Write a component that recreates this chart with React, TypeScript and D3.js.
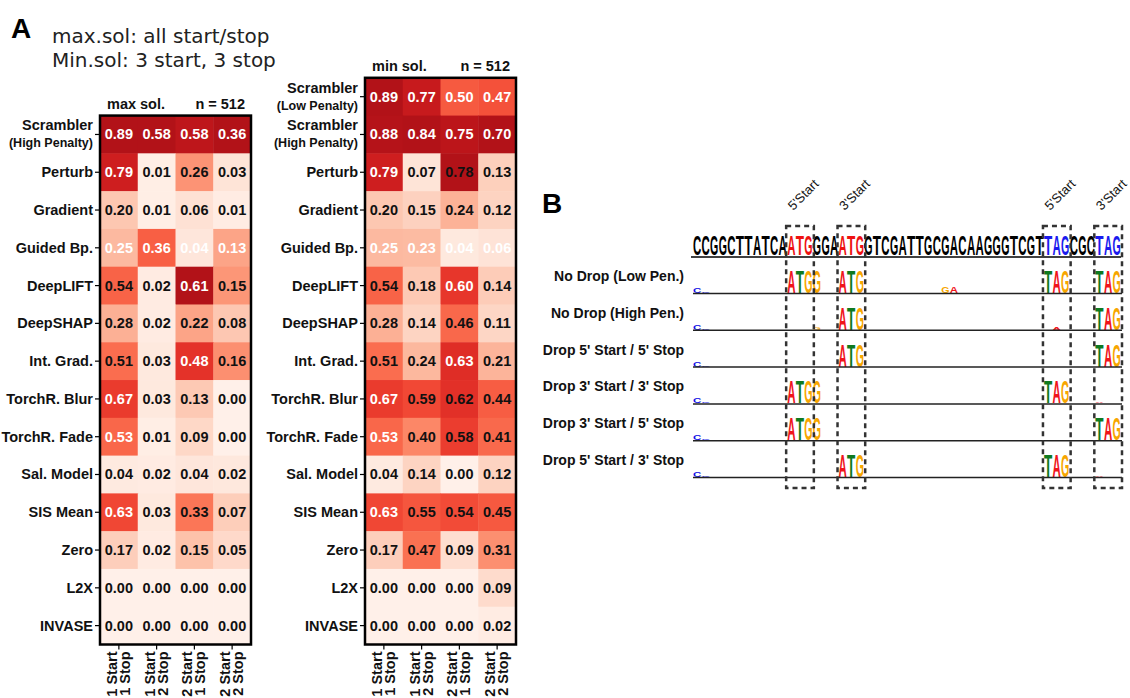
import React from "react";
import * as d3 from "d3";

// ---------- Panel A data ----------
const maxSolMethods: string[][] = [
  ["Scrambler", "(High Penalty)"],
  ["Perturb"], ["Gradient"], ["Guided Bp."], ["DeepLIFT"], ["DeepSHAP"],
  ["Int. Grad."], ["TorchR. Blur"], ["TorchR. Fade"], ["Sal. Model"],
  ["SIS Mean"], ["Zero"], ["L2X"], ["INVASE"],
];
const maxSolValues: number[][] = [
  [0.89, 0.58, 0.58, 0.36],
  [0.79, 0.01, 0.26, 0.03],
  [0.20, 0.01, 0.06, 0.01],
  [0.25, 0.36, 0.04, 0.13],
  [0.54, 0.02, 0.61, 0.15],
  [0.28, 0.02, 0.22, 0.08],
  [0.51, 0.03, 0.48, 0.16],
  [0.67, 0.03, 0.13, 0.00],
  [0.53, 0.01, 0.09, 0.00],
  [0.04, 0.02, 0.04, 0.02],
  [0.63, 0.03, 0.33, 0.07],
  [0.17, 0.02, 0.15, 0.05],
  [0.00, 0.00, 0.00, 0.00],
  [0.00, 0.00, 0.00, 0.00],
];
// 1 = label printed in white
const maxSolLightLabels: number[][] = [
  [1, 1, 1, 1], [1, 0, 0, 0], [0, 0, 0, 0], [1, 1, 1, 1], [0, 0, 1, 0],
  [0, 0, 0, 0], [0, 0, 1, 0], [1, 0, 0, 0], [1, 0, 0, 0], [0, 0, 0, 0],
  [1, 0, 0, 0], [0, 0, 0, 0], [0, 0, 0, 0], [0, 0, 0, 0],
];

const minSolMethods: string[][] = [
  ["Scrambler", "(Low Penalty)"],
  ["Scrambler", "(High Penalty)"],
  ["Perturb"], ["Gradient"], ["Guided Bp."], ["DeepLIFT"], ["DeepSHAP"],
  ["Int. Grad."], ["TorchR. Blur"], ["TorchR. Fade"], ["Sal. Model"],
  ["SIS Mean"], ["Zero"], ["L2X"], ["INVASE"],
];
const minSolValues: number[][] = [
  [0.89, 0.77, 0.50, 0.47],
  [0.88, 0.84, 0.75, 0.70],
  [0.79, 0.07, 0.78, 0.13],
  [0.20, 0.15, 0.24, 0.12],
  [0.25, 0.23, 0.04, 0.06],
  [0.54, 0.18, 0.60, 0.14],
  [0.28, 0.14, 0.46, 0.11],
  [0.51, 0.24, 0.63, 0.21],
  [0.67, 0.59, 0.62, 0.44],
  [0.53, 0.40, 0.58, 0.41],
  [0.04, 0.14, 0.00, 0.12],
  [0.63, 0.55, 0.54, 0.45],
  [0.17, 0.47, 0.09, 0.31],
  [0.00, 0.00, 0.00, 0.09],
  [0.00, 0.00, 0.00, 0.02],
];
const minSolLightLabels: number[][] = [
  [1, 1, 1, 1], [1, 1, 1, 1], [1, 0, 0, 0], [0, 0, 0, 0], [1, 1, 1, 1],
  [0, 0, 1, 0], [0, 0, 0, 0], [0, 0, 1, 0], [1, 0, 0, 0], [1, 0, 0, 0],
  [0, 0, 0, 0], [1, 0, 0, 0], [0, 0, 0, 0], [0, 0, 0, 0], [0, 0, 0, 0],
];

const columnLabels: string[][] = [
  ["1 Start", "1 Stop"],
  ["1 Start", "2 Stop"],
  ["2 Start", "1 Stop"],
  ["2 Start", "2 Stop"],
];

// ---------- Panel B data ----------
const referenceSeq = "CCGGCTTATCAATGGGAATGGTCGATTGCGACAAGGGTCGTTAGCGCTAG";
const startCodonPos = [11, 17];
const stopCodonPos = [41, 47];
const codonBoxLabels = ["5'Start", "3'Start", "5'Start", "3'Start"];

const logoRowLabels = [
  "No Drop (Low Pen.)",
  "No Drop (High Pen.)",
  "Drop 5' Start / 5' Stop",
  "Drop 3' Start / 3' Stop",
  "Drop 3' Start / 5' Stop",
  "Drop 5' Start / 3' Stop",
];
// [position, nucleotide, relative height]
type LogoLetter = [number, string, number];
const logoNoDropLow: LogoLetter[] = [
  [0, "C", 0.24], [1, "C", 0.06],
  [11, "A", 1], [12, "T", 1], [13, "G", 1], [14, "G", 1],
  [17, "A", 1], [18, "T", 1], [19, "G", 1],
  [29, "G", 0.28], [30, "A", 0.28],
  [41, "T", 1], [42, "A", 1], [43, "G", 1],
  [47, "T", 1], [48, "A", 1], [49, "G", 1],
];
const logoNoDropHigh: LogoLetter[] = [
  [0, "C", 0.24], [1, "C", 0.06],
  [14, "G", 0.1],
  [17, "A", 1], [18, "T", 1], [19, "G", 1],
  [42, "A", 0.14],
  [47, "T", 1], [48, "A", 1], [49, "G", 1],
];
const logoDrop5Start5Stop: LogoLetter[] = [
  [0, "C", 0.24], [1, "C", 0.06],
  [17, "A", 1], [18, "T", 1], [19, "G", 1],
  [47, "T", 1], [48, "A", 1], [49, "G", 1],
];
const logoDrop3Start3Stop: LogoLetter[] = [
  [0, "C", 0.24], [1, "C", 0.06],
  [11, "A", 1], [12, "T", 1], [13, "G", 1], [14, "G", 1],
  [41, "T", 1], [42, "A", 1], [43, "G", 1],
  [47, "A", 0.07],
];
const logoDrop3Start5Stop: LogoLetter[] = [
  [0, "C", 0.24], [1, "C", 0.06],
  [11, "A", 1], [12, "T", 1], [13, "G", 1], [14, "G", 1],
  [47, "T", 1], [48, "A", 1], [49, "G", 1],
];
const logoDrop5Start3Stop: LogoLetter[] = [
  [0, "C", 0.24], [1, "C", 0.06],
  [17, "A", 1], [18, "T", 1], [19, "G", 1],
  [41, "T", 1], [42, "A", 1], [43, "G", 1],
  [47, "A", 0.07],
];
const logoRows = [
  logoNoDropLow, logoNoDropHigh, logoDrop5Start5Stop,
  logoDrop3Start3Stop, logoDrop3Start5Stop, logoDrop5Start3Stop,
];

const FONT = "'Liberation Sans', Arial, Helvetica, sans-serif";
const nucColor: Record<string, string> = {
  A: "#f0141b",
  T: "#0f7a1f",
  G: "#f7a600",
  C: "#1414e6",
};

// ---------- Heatmap ----------
function Heatmap(props: {
  left: number; bottom: number; rowH: number; width: number;
  methods: string[][]; values: number[][]; light: number[][]; title: string;
}) {
  const { left, bottom, rowH, width, methods, values, light, title } = props;
  const top = bottom - rowH * methods.length;
  const x = d3.scaleBand<number>().domain(d3.range(4)).range([left, left + width]);
  const y = d3.scaleBand<number>().domain(d3.range(methods.length)).range([top, bottom]);
  // each column is shaded relative to its own maximum
  const colScales = d3.range(4).map((c) => {
    const mx = d3.max(values, (r) => r[c]) || 1;
    return d3
      .scaleSequential((t: number) => d3.interpolateReds(0.03 + 0.8 * t))
      .domain([0, mx]);
  });
  const cw = x.bandwidth();
  const rh = y.bandwidth();
  return (
    <g fontFamily={FONT} fontWeight="bold">
      <text x={left + 7} y={top - 7} fontSize={14.5} fill="#111">{title}</text>
      <text x={left + width - 6} y={top - 7} fontSize={14.5} fill="#111" textAnchor="end">n = 512</text>
      {values.map((row, r) =>
        row.map((v, c) => (
          <rect key={`r${r}c${c}`} x={x(c)!} y={y(r)!} width={cw + 0.5} height={rh + 0.5}
            fill={colScales[c](v)} />
        ))
      )}
      {values.map((row, r) =>
        row.map((v, c) => (
          <text key={`t${r}c${c}`} x={x(c)! + cw / 2} y={y(r)! + rh / 2 + 5}
            fontSize={14.5} textAnchor="middle"
            fill={light[r][c] ? "#ffffff" : "#111111"}>
            {v.toFixed(2)}
          </text>
        ))
      )}
      <rect x={left} y={top} width={width} height={bottom - top} fill="none"
        stroke="#000" strokeWidth={2.5} />
      {methods.map((lines, r) => {
        const cy = y(r)! + rh / 2;
        return (
          <g key={`l${r}`}>
            <line x1={left - 5} x2={left} y1={cy} y2={cy} stroke="#000" strokeWidth={1.2} />
            {lines.length === 1 ? (
              <text x={left - 7} y={cy + 5} fontSize={14.5} textAnchor="end" fill="#111">{lines[0]}</text>
            ) : (
              <>
                <text x={left - 7} y={cy - 4} fontSize={14.5} textAnchor="end" fill="#111">{lines[0]}</text>
                <text x={left - 7} y={cy + 13} fontSize={12.5} textAnchor="end" fill="#111">{lines[1]}</text>
              </>
            )}
          </g>
        );
      })}
      {columnLabels.map((lines, c) => {
        const cx = x(c)! + cw / 2;
        return (
          <g key={`c${c}`}>
            <line x1={cx} x2={cx} y1={bottom} y2={bottom + 5} stroke="#000" strokeWidth={1.2} />
            <text transform={`translate(${cx - 2},${bottom + 7}) rotate(-90)`} fontSize={14.5}
              textAnchor="end" fill="#111">{lines[0]}</text>
            <text transform={`translate(${cx + 11},${bottom + 7}) rotate(-90)`} fontSize={14.5}
              textAnchor="end" fill="#111">{lines[1]}</text>
          </g>
        );
      })}
    </g>
  );
}

// ---------- Sequence-logo glyph ----------
const CAP = 14.32; // cap height of the glyph font at 20px
function Glyph(props: { ch: string; x: number; base: number; w: number; h: number; color: string }) {
  const { ch, x, base, w, h, color } = props;
  if (h <= 0) return null;
  return (
    <g transform={`translate(${x},${base}) scale(1,${h / CAP})`}>
      <text x={0} y={0} fontSize={20} fontFamily={FONT} fontWeight="bold" fill={color}
        textLength={w - 0.3} lengthAdjust="spacingAndGlyphs">{ch}</text>
    </g>
  );
}

export default function App() {
  // sequence logo geometry
  const seqX = d3.scaleLinear().domain([0, referenceSeq.length]).range([693, 1121]);
  const letterW = seqX(1) - seqX(0);
  const rowBase = d3.scaleLinear().domain([0, 5]).range([293, 477]);
  const logoH = d3.scaleLinear().domain([0, 1]).range([0, 22]);
  const seqBase = 255;

  const codonColor = (i: number) => {
    if (startCodonPos.some((p) => i >= p && i < p + 3)) return "#ee1111";
    if (stopCodonPos.some((p) => i >= p && i < p + 3)) return "#1a1aee";
    return "#000000";
  };
  const boxes = [...startCodonPos, ...stopCodonPos];
  const headFont = "'DejaVu Sans', Verdana, sans-serif";

  return (
    <svg width={1130} height={698} style={{ position: "absolute", left: 0, top: 0, background: "#fff" }}>
      {/* Panel A */}
      <text x={11} y={38} fontFamily={FONT} fontWeight="bold" fontSize={28} fill="#000">A</text>
      <text x={52} y={43} fontFamily={headFont} fontSize={20} fill="#222">
        max.sol: all start/stop
      </text>
      <text x={52} y={67} fontFamily={headFont} fontSize={20} fill="#222">
        Min.sol: 3 start, 3 stop
      </text>
      <Heatmap left={100} bottom={644.5} rowH={37.78} width={151}
        methods={maxSolMethods} values={maxSolValues} light={maxSolLightLabels} title="max sol." />
      <Heatmap left={365} bottom={644.5} rowH={37.78} width={151}
        methods={minSolMethods} values={minSolValues} light={minSolLightLabels} title="min sol." />

      {/* Panel B */}
      <text x={542} y={213} fontFamily={FONT} fontWeight="bold" fontSize={28} fill="#000">B</text>

      {referenceSeq.split("").map((ch, i) => (
        <Glyph key={`s${i}`} ch={ch} x={seqX(i)} base={seqBase} w={letterW} h={20} color={codonColor(i)} />
      ))}
      <line x1={seqX(0) - 2} x2={seqX(referenceSeq.length)} y1={seqBase + 2} y2={seqBase + 2}
        stroke="#000" strokeWidth={1.5} />

      {logoRows.map((letters, r) => {
        const base = rowBase(r);
        return (
          <g key={`row${r}`}>
            <text x={684} y={base - 12} fontFamily={FONT} fontWeight="bold" fontSize={14}
              textAnchor="end" fill="#111">{logoRowLabels[r]}</text>
            {letters.map(([pos, ch, h], k) => (
              <Glyph key={k} ch={ch} x={seqX(pos)} base={base} w={letterW} h={logoH(h)} color={nucColor[ch]} />
            ))}
            <line x1={seqX(0)} x2={seqX(referenceSeq.length) + 1} y1={base + 0.5} y2={base + 0.5}
              stroke="#222" strokeWidth={1.5} />
          </g>
        );
      })}

      {boxes.map((p, i) => {
        const x0 = seqX(p) - 1;
        const x1 = seqX(p + 3) + 1;
        return (
          <g key={`box${i}`}>
            <rect x={x0} y={226} width={x1 - x0} height={262} fill="none" stroke="#333"
              strokeWidth={2.5} strokeDasharray="5,4" />
            <text transform={`translate(${x0 + 7},${211}) rotate(-45)`} fontFamily={FONT}
              fontSize={13} fill="#111">{codonBoxLabels[i]}</text>
          </g>
        );
      })}
    </svg>
  );
}
